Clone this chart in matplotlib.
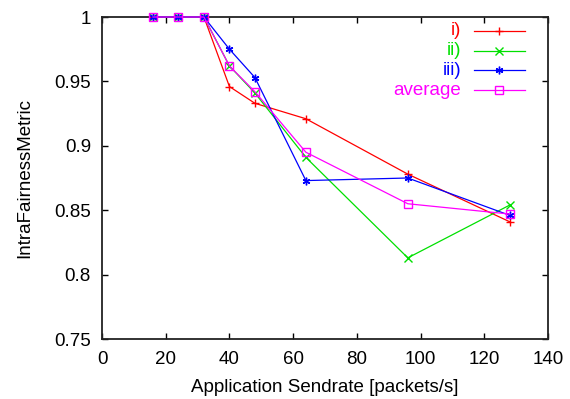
import matplotlib
matplotlib.use('Agg')
import matplotlib.pyplot as plt
from matplotlib.lines import Line2D

plt.rcParams['font.family'] = ['Liberation Sans', 'DejaVu Sans']

sendrate = [16, 24, 32, 40, 48, 64, 96, 128]
fair_i = [1.0, 1.0, 1.0, 0.946, 0.933, 0.921, 0.878, 0.841]
fair_ii = [1.0, 1.0, 1.0, 0.962, 0.941, 0.891, 0.813, 0.854]
fair_iii = [1.0, 1.0, 1.0, 0.975, 0.953, 0.873, 0.875, 0.846]
fair_avg = [1.0, 1.0, 1.0, 0.962, 0.942, 0.895, 0.855, 0.847]

labels = ['i)', 'ii)', 'iii)', 'average']
colors = ['#ff0000', '#00e000', '#0000ff', '#ff00ff']
markers = ['+', 'x', (6, 2, 0), 's']

xticks = [0, 20, 40, 60, 80, 100, 120, 140]
yticks = [0.75, 0.8, 0.85, 0.9, 0.95, 1.0]
yticklabels = ['0.75', '0.8', '0.85', '0.9', '0.95', '1']

fs = 13.5

fig = plt.figure(figsize=(5.7, 3.99), dpi=100)
ax = fig.add_axes([102 / 570, 1 - 339 / 399, 446 / 570, 322 / 399])

series = [fair_i, fair_ii, fair_iii, fair_avg]
for k, ys in enumerate(series):
    mfc = 'none' if markers[k] == 's' else colors[k]
    ax.plot(sendrate, ys, color=colors[k], lw=0.9, marker=markers[k],
            markersize=5.5, markerfacecolor=mfc, markeredgecolor=colors[k],
            markeredgewidth=1.0, clip_on=False, zorder=3 + k)

ax.set_xlim(0, 140)
ax.set_ylim(0.75, 1.0)
ax.set_xticks(xticks)
ax.set_yticks(yticks)
ax.set_yticklabels(yticklabels)
ax.tick_params(direction='in', length=4, width=1, top=True, right=True,
               labelsize=fs)
ax.tick_params(axis='x', pad=9)
ax.tick_params(axis='y', pad=8)
for s in ax.spines.values():
    s.set_linewidth(1.3)
    s.set_color('#222222')

ax.set_xlabel('Application Sendrate [packets/s]', fontsize=fs, va='center')
ax.set_ylabel('IntraFairnessMetric', fontsize=fs, va='center')
ax.xaxis.set_label_coords(0.5, -0.152)
ax.yaxis.set_label_coords(-0.173, 0.5)

# gnuplot-style key: right aligned text, sample line to the right
y0 = 0.957
dy = 0.0615
for k in range(4):
    yy = y0 - k * dy
    ax.text(0.805, yy, labels[k], color=colors[k], fontsize=fs,
            ha='right', va='center', transform=ax.transAxes)
    mfc = 'none' if markers[k] == 's' else colors[k]
    ax.add_line(Line2D([0.834, 0.948], [yy, yy], color=colors[k], lw=0.9,
                       transform=ax.transAxes, clip_on=False))
    ax.add_line(Line2D([0.891], [yy], color=colors[k], marker=markers[k],
                       markersize=5.5, markerfacecolor=mfc,
                       markeredgewidth=1.0, transform=ax.transAxes,
                       clip_on=False))

fig.savefig('out.png', dpi=100)
